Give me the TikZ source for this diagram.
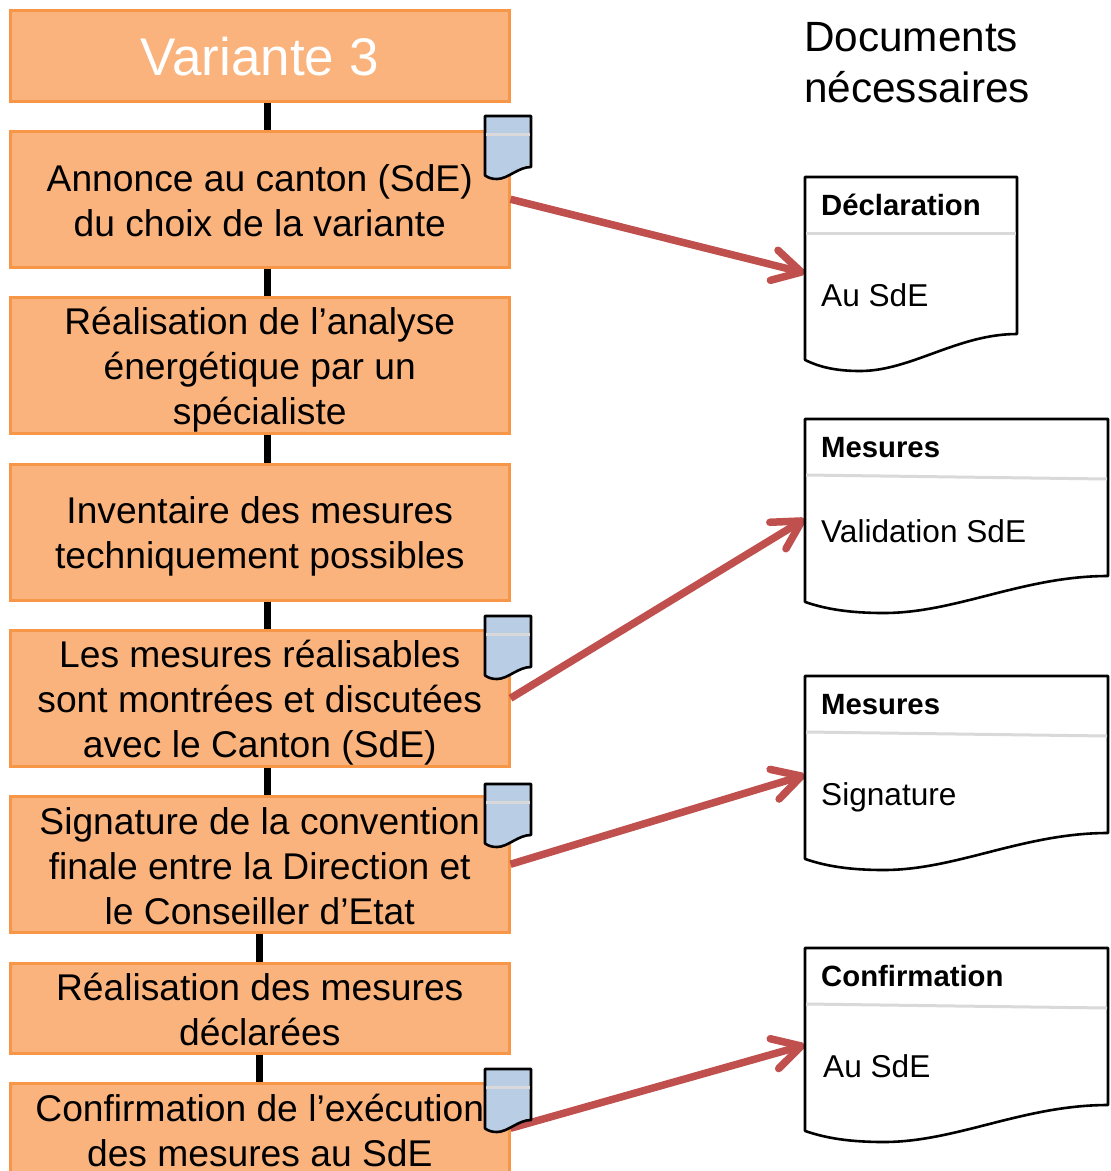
\documentclass[tikz,border=0pt]{standalone}
\usepackage{fontspec}
\setmainfont{Liberation Sans}
\usepackage{xcolor}
\usetikzlibrary{arrows.meta,
                positioning}
\definecolor{boxfill}{HTML}{FAB37C}
\definecolor{boxline}{HTML}{F79646}
\definecolor{redline}{HTML}{C0504D}
\definecolor{tagfill}{HTML}{B9CDE5}
\definecolor{sepline}{HTML}{D9D9D9}
\tikzset{
  stepbox/.style={draw=boxline,line width=2.5pt,fill=boxfill,minimum width=499pt,
    text width=490pt,align=flush center,inner sep=0pt,anchor=north west,
    font=\fontsize{37.2}{45}\selectfont},
  link/.style={line width=7pt},
  docarrow/.style={redline,line width=7.5pt,
    -{Straight Barb[length=28pt,width=31pt,round]}},
  doctitle/.style={anchor=base west,inner sep=0pt,font=\fontsize{29.3}{35}\selectfont\bfseries},
  doctext/.style={anchor=base west,inner sep=0pt,font=\fontsize{31.6}{37}\selectfont},
}
\begin{document}
\begin{tikzpicture}[x=1pt,y=-1pt]
\useasboundingbox (0,0) rectangle (1111,1171);

\node[stepbox,minimum height=91pt,text=white,font=\fontsize{53}{60}\selectfont] (var) at (9,9) {\rule{0pt}{40pt}Variante 3};
\node[stepbox,minimum height=136pt] (annonce) at (9,130) {\rule{0pt}{29pt}Annonce au canton (SdE)\\du choix de la variante};
\node[stepbox,minimum height=136pt] (analyse) at (9,296) {\rule{0pt}{37pt}Réalisation de l’analyse\\énergétique par un\\spécialiste};
\node[stepbox,minimum height=136pt] (inventaire) at (9,463) {\rule{0pt}{35pt}Inventaire des mesures\\techniquement possibles};
\node[stepbox,minimum height=136pt] (canton) at (9,629) {\rule{0pt}{37pt}Les mesures réalisables\\sont montrées et discutées\\avec le Canton (SdE)};
\node[stepbox,minimum height=136pt] (signature) at (9,795) {\rule{0pt}{31pt}Signature de la convention\\finale entre la Direction et\\le Conseiller d’Etat};
\node[stepbox,minimum height=90pt] (realisation) at (9,962) {\rule{0pt}{29pt}Réalisation des mesures\\déclarées};
\node[stepbox,minimum height=90pt] (confirmation) at (9,1082) {\rule{0pt}{31pt}Confirmation de l’exécution\\des mesures au SdE};

\foreach \a/\b in {var/annonce,annonce/analyse,analyse/inventaire,inventaire/canton,canton/signature}
  \draw[link] ([xshift=8pt]\a.south) -- ([xshift=8pt]\b.north);
\foreach \a/\b in {signature/realisation,realisation/confirmation}
  \draw[link] (\a.south) -- (\b.north);

\foreach \n/\y in {declin/273,mesin/519,signin/775,confin/1045}
  \coordinate (\n) at (805,\y);

\draw[docarrow] (annonce.east) -- (declin);
\draw[docarrow] (canton.east) -- (mesin);
\draw[docarrow] (signature.east) -- (signin);
\draw[docarrow] (confirmation.east) -- (confin);

% small sheets and big sheets
\foreach \x/\y/\w/\h/\d/\c/\ga/\gb in {
    485/116/46/51/12/tagfill/18/18,485/616/46/51/12/tagfill/18/18,
    485/784/46/51/12/tagfill/18/18,485/1069/46/51/12/tagfill/18/18,
    805/177/212/157/37/white/56/56,805/419/303/157/37/white/56/60,
    805/676/303/157/37/white/56/60,805/948/303/157/37/white/56/60}{
  \draw[line width=2.6pt,line join=round,fill=\c] (\x,\y) -- (\x+\w,\y) -- (\x+\w,\y+\h)
    .. controls (\x+.72*\w,\y+\h) and (\x+.5*\w,\y+\h+\d) .. (\x+.26*\w,\y+\h+\d)
    .. controls (\x+.15*\w,\y+\h+\d) and (\x+.07*\w,\y+\h+.9*\d) .. (\x,\y+\h+.7*\d) -- cycle;
  \draw[sepline,line width=3pt] (\x+1,\y+\ga) -- (\x+\w-1,\y+\gb);
}

\node[anchor=north west,inner sep=0pt,align=left,font=\fontsize{42.3}{51}\selectfont] (head) at (804,22) {Documents\\nécessaires};

\node[doctitle] (t1) at (821,215) {Déclaration};
\node[doctext] (b1) at (821,306) {Au SdE};
\node[doctitle] (t2) at (821,457) {Mesures};
\node[doctext] (b2) at (821,542) {Validation SdE};
\node[doctitle] (t3) at (821,714) {Mesures};
\node[doctext] (b3) at (821,805) {Signature};
\node[doctitle] (t4) at (821,986) {Confirmation};
\node[doctext] (b4) at (823,1077) {Au SdE};
\end{tikzpicture}
\end{document}
